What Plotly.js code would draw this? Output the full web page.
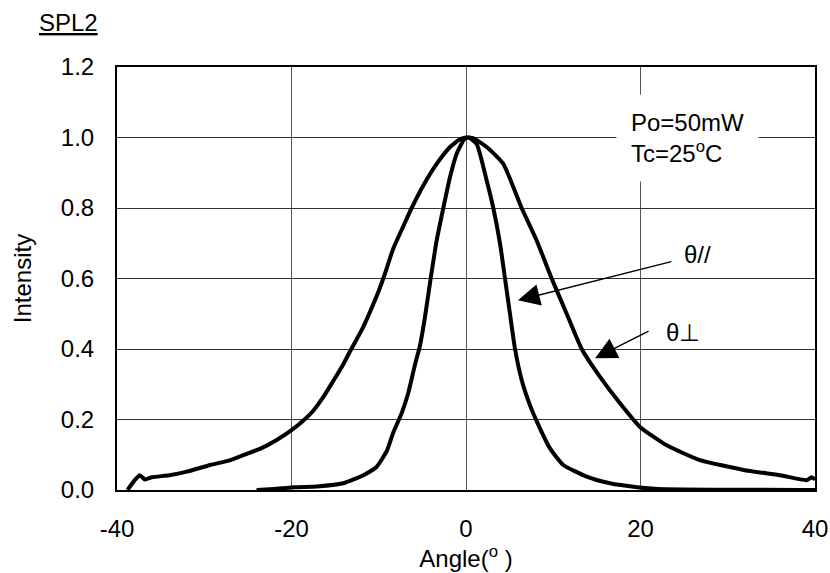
<!DOCTYPE html>
<html>
<head>
<meta charset="utf-8">
<script src="https://cdn.plot.ly/plotly-3.0.1.min.js"></script>
<style>html,body{margin:0;padding:0;background:#fff;}#chart{width:830px;height:573px;}</style>
</head>
<body>
<div id="chart"></div>
<script>
// θ⊥ (wide curve)
var perpX = [-38.8, -37.9, -37.4, -36.8, -36.0, -34.0, -32.0, -29.3, -27.0, -25.5, -23.5, -21.7, -20.0, -18.6, -17.5, -16.35, -15.2, -14.06, -13.3, -11.77, -10.24, -9.48, -8.33, -7.19, -6.23, -4.89, -3.36, -1.83, -0.69, 0.0, 0.8, 2.37, 4.28, 6.38, 8.1, 9.82, 11.54, 13.26, 15.36, 17.65, 19.94, 23.0, 26.8, 31.8, 36.0, 39.05, 39.6, 40.0];
var perpY = [0.0, 0.03, 0.042, 0.03, 0.036, 0.042, 0.052, 0.071, 0.085, 0.099, 0.118, 0.142, 0.17, 0.198, 0.225, 0.264, 0.31, 0.357, 0.393, 0.463, 0.55, 0.60, 0.685, 0.748, 0.80, 0.864, 0.925, 0.973, 0.995, 1.0, 0.998, 0.973, 0.925, 0.80, 0.708, 0.60, 0.50, 0.40, 0.321, 0.246, 0.179, 0.127, 0.085, 0.057, 0.042, 0.028, 0.036, 0.03];
// θ// (narrow curve)
var parX = [-24.0, -22.0, -19.6, -17.1, -14.06, -11.77, -10.24, -9.09, -8.33, -7.37, -6.61, -5.85, -5.27, -4.7, -4.05, -3.36, -2.6, -1.83, -1.07, -0.2, 0.3, 1.22, 2.37, 3.13, 3.9, 4.47, 5.04, 5.62, 6.38, 7.34, 8.29, 9.63, 11.15, 13.83, 16.5, 19.6, 22.0, 40.0];
var parY = [0.0, 0.003, 0.008, 0.01, 0.019, 0.042, 0.066, 0.11, 0.163, 0.218, 0.276, 0.355, 0.41, 0.491, 0.60, 0.708, 0.80, 0.888, 0.954, 0.995, 1.0, 0.982, 0.878, 0.80, 0.699, 0.60, 0.50, 0.40, 0.312, 0.24, 0.185, 0.118, 0.071, 0.038, 0.019, 0.008, 0.003, 0.0];

var xTicks = [-40, -20, 0, 20, 40];
var yTicks = [0.0, 0.2, 0.4, 0.6, 0.8, 1.0, 1.2];

var FONT = 'Liberation Sans, Arial, sans-serif';

var traces = [
  {x: perpX, y: perpY, mode: 'lines', line: {color: '#000', width: 4, shape: 'spline', smoothing: 0.5}, hoverinfo: 'skip', showlegend: false},
  {x: parX, y: parY, mode: 'lines', line: {color: '#000', width: 4, shape: 'spline', smoothing: 0.5}, hoverinfo: 'skip', showlegend: false}
];

var layout = {
  width: 830, height: 573,
  margin: {l: 117, r: 15, t: 67, b: 83, pad: 0},
  paper_bgcolor: '#fff', plot_bgcolor: '#fff',
  font: {family: FONT, size: 24, color: '#000'},
  showlegend: false,
  xaxis: {
    range: [-40, 40], tickvals: xTicks, ticktext: xTicks.map(String),
    ticks: '', showgrid: true, gridcolor: '#555', gridwidth: 1,
    zeroline: false, showline: true, linecolor: '#000', linewidth: 2, mirror: true,
    tickfont: {family: FONT, size: 24, color: '#000'},
    ticklabelstandoff: 16,
    title: {text: 'Angle(<sup>o</sup> )', font: {family: FONT, size: 24, color: '#000'}, standoff: 2}
  },
  yaxis: {
    range: [0, 1.2], tickvals: yTicks, ticktext: yTicks.map(function(v){return v.toFixed(1);}),
    ticks: '', showgrid: true, gridcolor: '#333', gridwidth: 1,
    zeroline: false, showline: true, linecolor: '#000', linewidth: 2, mirror: true,
    tickfont: {family: FONT, size: 24, color: '#000'},
    ticklabelstandoff: 16,
    title: {text: 'Intensity', font: {family: FONT, size: 24, color: '#000'}, standoff: 22}
  },
  annotations: [
    {xref: 'paper', yref: 'paper', x: -0.1146, y: 1.106, xanchor: 'left', yanchor: 'middle',
     text: '<u>SPL2</u>', showarrow: false, font: {family: FONT, size: 24, color: '#000'}},
    {xref: 'x', yref: 'y', x: 17.2, y: 0.9986, xanchor: 'left', yanchor: 'middle', align: 'left',
     text: 'Po=50mW<br>Tc=25<sup>o</sup>C', showarrow: false, bgcolor: '#fff', borderpad: 14,
     font: {family: FONT, size: 24, color: '#000'}},
    {xref: 'x', yref: 'y', x: 26.5, y: 0.669, xanchor: 'center', yanchor: 'middle',
     text: 'θ//', showarrow: false, font: {family: FONT, size: 24, color: '#000'}},
    {xref: 'x', yref: 'y', x: 24.9, y: 0.447, xanchor: 'center', yanchor: 'middle',
     text: 'θ⊥', showarrow: false, font: {family: FONT, size: 24, color: '#000'}},
    {xref: 'x', yref: 'y', x: 5.96, y: 0.538, axref: 'x', ayref: 'y', ax: 23.7, ay: 0.649,
     text: '', showarrow: true, arrowhead: 2, arrowsize: 2.9, arrowwidth: 1.5, arrowcolor: '#000', standoff: 0},
    {xref: 'x', yref: 'y', x: 14.79, y: 0.374, axref: 'x', ayref: 'y', ax: 21.1, ay: 0.453,
     text: '', showarrow: true, arrowhead: 2, arrowsize: 2.9, arrowwidth: 1.5, arrowcolor: '#000', standoff: 0}
  ]
};

Plotly.newPlot('chart', traces, layout, {displayModeBar: false, staticPlot: true});
</script>
</body>
</html>
